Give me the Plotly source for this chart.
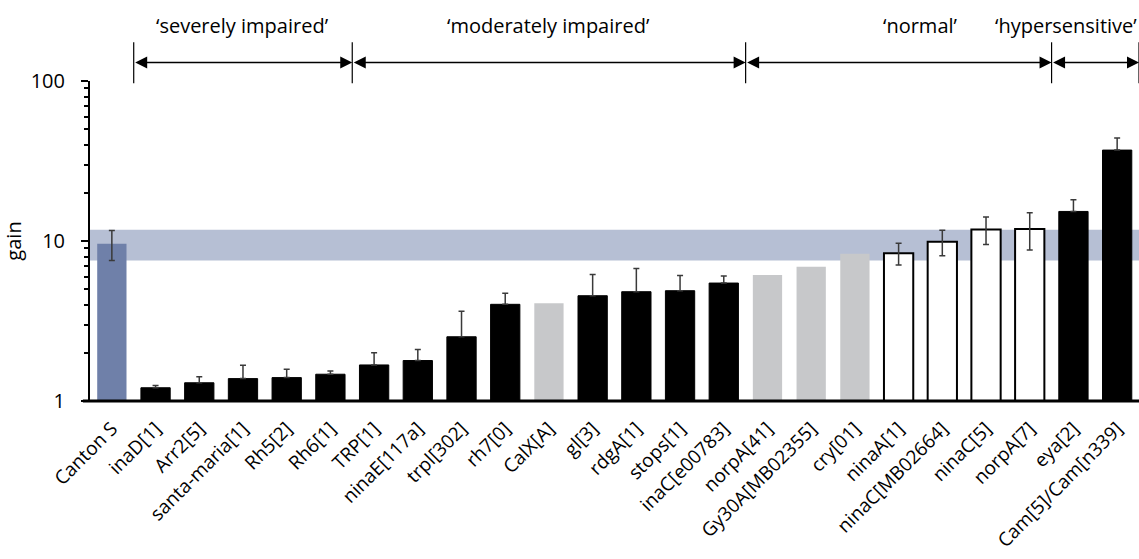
import plotly.graph_objects as go

# Strains ordered by photoreceptor gain
strains = ["Canton S", "inaD[1]", "Arr2[5]", "santa-maria[1]", "Rh5[2]", "Rh6[1]",
           "TRP[1]", "ninaE[117a]", "trpl[302]", "rh7[0]", "CalX[A]", "gl[3]",
           "rdgA[1]", "stops[1]", "inaC[e00783]", "norpA[41]", "Gy30A[MB02355]",
           "cry[01]", "ninaA[1]", "ninaC[MB02664]", "ninaC[5]", "norpA[7]",
           "eya[2]", "Cam[5]/Cam[n339]"]
gain = [9.6, 1.21, 1.30, 1.38, 1.40, 1.47, 1.68, 1.79, 2.52, 4.02, 4.08, 4.55,
        4.82, 4.89, 5.46, 6.13, 6.90, 8.32, 8.39, 9.89, 11.8, 11.9, 15.3, 37.0]
# SEM; None where no error bar is drawn
sem = [2.05, 0.04, 0.12, 0.29, 0.18, 0.07, 0.32, 0.31, 1.12, 0.69, None, 1.63,
       1.92, 1.2, 0.58, None, None, None, 1.3, 1.8, 2.3, 3.1, 2.8, 7.0]
# bar style group: wt = wild type, mut = black, nd = grey, open = white outlined
style = ["wt", "mut", "mut", "mut", "mut", "mut", "mut", "mut", "mut", "mut", "nd",
         "mut", "mut", "mut", "mut", "nd", "nd", "nd", "open", "open", "open", "open",
         "mut", "mut"]
# wild-type range band (mean ± SD)
band_low, band_high = 7.56, 11.74

# classification brackets (category boundaries), labels and label positions
groups = [("‘severely impaired’", 0.5, 5.5, 3.0),
          ("‘moderately impaired’", 5.5, 14.5, 10.0),
          ("‘normal’", 14.5, 21.5, 18.5),
          ("‘hypersensitive’", 21.5, 23.5, None)]

fill = {"wt": "#6f80a9", "mut": "#000000", "nd": "#c7c8ca", "open": "#ffffff"}
edge = {"wt": "#6f80a9", "mut": "#000000", "nd": "#c7c8ca", "open": "#000000"}
edge_w = {"wt": 0, "mut": 1, "nd": 0, "open": 2}

FONT = "Open Sans"
FS = 20

fig = go.Figure()
fig.add_trace(go.Bar(
    x=strains, y=gain, width=0.67,
    marker=dict(color=[fill[s] for s in style],
                line=dict(color=[edge[s] for s in style],
                          width=[edge_w[s] for s in style])),
    showlegend=False, hoverinfo="x+y"))

# error bars: only the upper half shows on filled black bars
ex, ey, eup, edn = [], [], [], []
for s, g, e, st in zip(strains, gain, sem, style):
    if e is None:
        continue
    ex.append(s)
    ey.append(g)
    eup.append(e)
    edn.append(0 if st == "mut" else e)
fig.add_trace(go.Scatter(
    x=ex, y=ey, mode="markers", marker=dict(size=1, color="rgba(0,0,0,0)"),
    error_y=dict(type="data", symmetric=False, array=eup, arrayminus=edn,
                 visible=True, color="#3a3a3a", thickness=1.5, width=3),
    showlegend=False, hoverinfo="skip"))

shapes = [dict(type="rect", xref="paper", yref="y", x0=0, x1=1,
               y0=band_low, y1=band_high, fillcolor="#b6bfd4",
               line=dict(width=0), layer="below"),
          # x axis baseline, slightly overhanging the y axis
          dict(type="line", xref="paper", yref="paper", x0=-0.0068, x1=1,
               y0=0, y1=0, line=dict(color="black", width=3))]
annotations = []
bounds = sorted({g[1] for g in groups} | {g[2] for g in groups})
for b in bounds:
    shapes.append(dict(type="line", xref="x", yref="paper", x0=b, x1=b,
                       y0=0.993, y1=1.121, line=dict(color="black", width=1.2)))
for name, a, b, pos in groups:
    annotations.append(dict(x=b, y=1.058, ax=a, ay=0, xref="x", yref="paper",
                            axref="x", ayref="pixel", text="", showarrow=True,
                            arrowhead=2, arrowside="end+start", arrowsize=1.6,
                            arrowwidth=1.5, arrowcolor="black",
                            standoff=0, startstandoff=0))
    if pos is None:
        annotations.append(dict(x=1.0, y=1.174, xref="paper", yref="paper",
                                xanchor="right", yanchor="middle",
                                text=name, showarrow=False,
                                font=dict(family=FONT, size=FS, color="black")))
    else:
        annotations.append(dict(x=pos, y=1.174, xref="x", yref="paper",
                                xanchor="center", yanchor="middle",
                                text=name, showarrow=False,
                                font=dict(family=FONT, size=FS, color="black")))

fig.update_layout(
    width=1139, height=559,
    margin=dict(l=90, r=0, t=81, b=158),
    plot_bgcolor="white", paper_bgcolor="white",
    barmode="overlay",
    shapes=shapes, annotations=annotations,
    font=dict(family=FONT, color="black"),
    xaxis=dict(type="category", range=[-0.5, 23.5], showline=False,
               showgrid=False, ticks="", tickangle=-45, ticklabelstandoff=12,
               automargin=False,
               tickfont=dict(family=FONT, size=19, color="black")),
    yaxis=dict(type="log", range=[0, 2], showgrid=False, zeroline=False,
               showline=True, linewidth=2, linecolor="black",
               ticks="outside", ticklen=7, tickwidth=2, tickcolor="black",
               tickvals=[1, 10, 100], ticktext=["1", "10", "100"],
               ticklabelstandoff=12, automargin=False,
               tickfont=dict(family=FONT, size=FS, color="black"),
               minor=dict(tickvals=[2, 3, 4, 5, 6, 7, 8, 9,
                                    20, 30, 40, 50, 60, 70, 80, 90],
                          ticks="outside", ticklen=4, tickwidth=1.5,
                          tickcolor="black", showgrid=False),
               title=dict(text="gain", standoff=10,
                          font=dict(family=FONT, size=FS, color="black"))),
)

fig.write_html("out.html")
